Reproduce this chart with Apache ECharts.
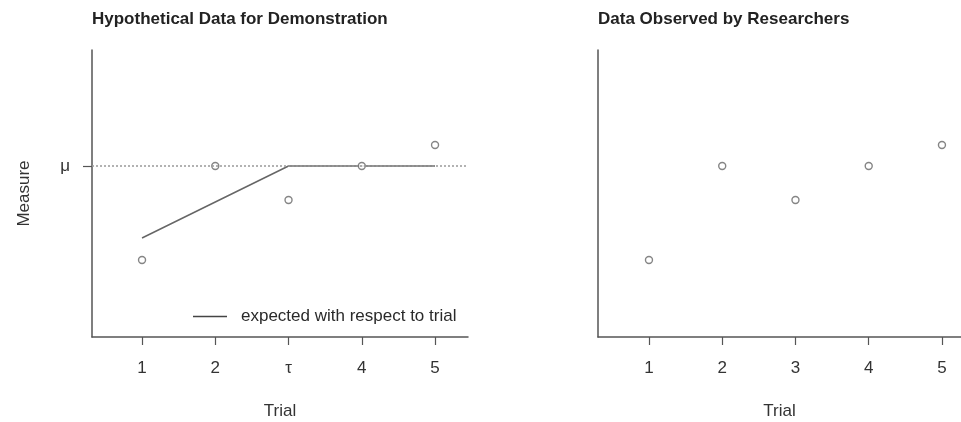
<!DOCTYPE html>
<html>
<head>
<meta charset="utf-8">
<script src="https://cdn.jsdelivr.net/npm/echarts@6/dist/echarts.min.js"></script>
<style>html,body{margin:0;padding:0;background:#fff}#c{width:961px;height:422px}</style>
</head>
<body>
<div id="c"></div>
<script>
// Data
const trials = [1, 2, 3, 4, 5];
const hypoTickLabels = ['1', '2', 'τ', '4', '5'];
const obsTickLabels = ['1', '2', '3', '4', '5'];
const measures = [0.6, 10, 6.6, 10, 12.1];
const expectedTrials = [1, 3, 5];
const expectedMeasures = [2.8, 10, 10];
const mu = 10;
const muLabel = 'μ';
const legendLabel = 'expected with respect to trial';

const FONT = "'Liberation Sans', Arial, sans-serif";
const axisColor = '#555';
const textColor = '#333';

const chart = echarts.init(document.getElementById('c'), null, {renderer: 'canvas'});

function xAxisDef(gridIndex, min, max, labels) {
  return {
    type: 'value', gridIndex: gridIndex, min: min, max: max,
    name: 'Trial', nameLocation: 'middle', nameGap: 66,
    nameTextStyle: {fontFamily: FONT, fontSize: 17, color: textColor},
    axisLine: {show: true, onZero: false, lineStyle: {color: axisColor, width: 1.5}},
    axisTick: {show: true, length: 8, customValues: trials, lineStyle: {color: axisColor, width: 1.2}},
    axisLabel: {
      show: true, margin: 23, customValues: trials,
      fontFamily: FONT, fontSize: 17, color: textColor,
      formatter: function (v) { return labels[trials.indexOf(Math.round(v))]; }
    },
    splitLine: {show: false}
  };
}

const option = {
  backgroundColor: '#fff',
  animation: false,
  title: [
    {text: 'Hypothetical Data for Demonstration', left: 92, top: 11, padding: 0,
     textStyle: {fontFamily: FONT, fontSize: 17, fontWeight: 'bold', color: '#222'}},
    {text: 'Data Observed by Researchers', left: 598, top: 11, padding: 0,
     textStyle: {fontFamily: FONT, fontSize: 17, fontWeight: 'bold', color: '#222'}}
  ],
  grid: [
    {left: 92, right: 493, top: 50, bottom: 85, containLabel: false, outerBoundsMode: 'none'},
    {left: 598, right: 0, top: 50, bottom: 85, containLabel: false, outerBoundsMode: 'none'}
  ],
  legend: {
    data: [{name: legendLabel, icon: 'rect'}], left: 193, top: 308, padding: 0,
    itemWidth: 34, itemHeight: 1.5,
    itemStyle: {color: '#444', borderWidth: 0},
    textStyle: {fontFamily: FONT, fontSize: 17, color: '#2a2a2a', padding: [0, 0, 0, 9]}
  },
  xAxis: [
    xAxisDef(0, 0.317, 5.45, hypoTickLabels),
    xAxisDef(1, 0.304, 5.26, obsTickLabels)
  ],
  yAxis: [
    {
      type: 'value', gridIndex: 0, min: -7.1, max: 21.6,
      name: 'Measure', nameLocation: 'middle', nameGap: 59,
      nameTextStyle: {fontFamily: FONT, fontSize: 17, color: textColor},
      axisLine: {show: true, lineStyle: {color: axisColor, width: 1.5}},
      axisTick: {show: true, length: 9, customValues: [mu], lineStyle: {color: axisColor, width: 1.2}},
      axisLabel: {show: true, margin: 22, customValues: [mu], fontFamily: FONT, fontSize: 17, color: textColor,
        formatter: function () { return muLabel; }},
      splitLine: {show: false}
    },
    {
      type: 'value', gridIndex: 1, min: -7.1, max: 21.6,
      axisLine: {show: true, lineStyle: {color: axisColor, width: 1.5}},
      axisTick: {show: false}, axisLabel: {show: false}, splitLine: {show: false}
    }
  ],
  series: [
    {
      name: legendLabel, type: 'line', xAxisIndex: 0, yAxisIndex: 0,
      data: expectedTrials.map((t, i) => [t, expectedMeasures[i]]),
      symbol: 'none', lineStyle: {color: '#666', width: 1.5}, itemStyle: {color: '#666'},
      z: 3,
      markLine: {
        silent: true, symbol: 'none', label: {show: false},
        lineStyle: {color: '#999', type: [2, 2], width: 1.5},
        data: [{yAxis: mu}]
      }
    },
    {
      name: 'hypothetical', type: 'scatter', xAxisIndex: 0, yAxisIndex: 0,
      data: trials.map((t, i) => [t, measures[i]]),
      symbol: 'circle', symbolSize: 7,
      itemStyle: {color: '#fff', borderColor: '#666', borderWidth: 1.4}, z: 4
    },
    {
      name: 'observed', type: 'scatter', xAxisIndex: 1, yAxisIndex: 1,
      data: trials.map((t, i) => [t, measures[i]]),
      symbol: 'circle', symbolSize: 7,
      itemStyle: {color: '#fff', borderColor: '#666', borderWidth: 1.4}, z: 4
    }
  ]
};
chart.setOption(option);
</script>
</body>
</html>
